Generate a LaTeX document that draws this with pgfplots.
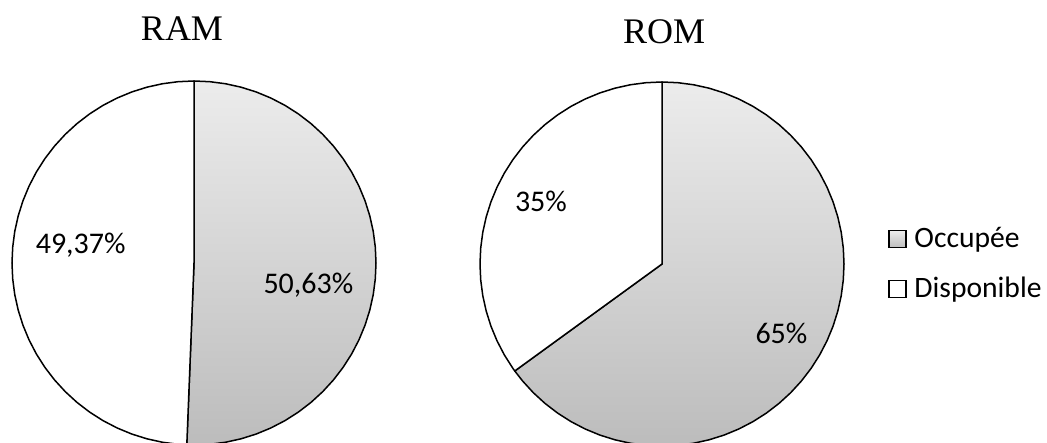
\documentclass[border=0pt]{standalone}
\usepackage{fontspec}
\setmainfont{Carlito}
\newfontfamily\titlefont{Liberation Serif}
\usepackage{pgfplots}
\pgfplotsset{compat=1.18}
\usepgfplotslibrary{polar}
\definecolor{gtop}{RGB}{236,236,236}
\definecolor{gbot}{RGB}{188,188,188}
\pgfplotsset{
  piebase/.style={
    scale only axis, width=182pt, height=182pt,
    xmin=0, xmax=360, ymin=0, ymax=1,
    hide axis, clip=false,
    xtick=\empty, ytick=\empty,
  },
  occ/.style={draw=black, line width=0.75pt, line join=round, top color=gtop, bottom color=gbot},
  dispo/.style={draw=black, line width=0.75pt, line join=round, fill=white},
}
\begin{document}
\begin{tikzpicture}[x=1pt,y=1pt]
\path[use as bounding box] (0,0) rectangle (523.5,221.5);
% RAM : Occupee 50,63 %  -> 182.27 deg ; Disponible 49,37 %
\begin{polaraxis}[piebase, at={(97pt,90pt)}, anchor=center]
\addplot[occ] coordinates {(0,0) (90,1) (85,1) (80,1) (75,1) (70,1) (65,1) (60,1) (55,1) (50,1) (45,1) (40,1) (35,1) (30,1) (25,1) (20,1) (15,1) (10,1) (5,1) (0,1) (-5,1) (-10,1) (-15,1) (-20,1) (-25,1) (-30,1) (-35,1) (-40,1) (-45,1) (-50,1) (-55,1) (-60,1) (-65,1) (-70,1) (-75,1) (-80,1) (-85,1) (-90,1) (-92.27,1)} -- cycle;
\addplot[dispo] coordinates {(0,0) (90,1) (95,1) (100,1) (105,1) (110,1) (115,1) (120,1) (125,1) (130,1) (135,1) (140,1) (145,1) (150,1) (155,1) (160,1) (165,1) (170,1) (175,1) (180,1) (185,1) (190,1) (195,1) (200,1) (205,1) (210,1) (215,1) (220,1) (225,1) (230,1) (235,1) (240,1) (245,1) (250,1) (255,1) (260,1) (265,1) (267.73,1)} -- cycle;
\node[font=\fontsize{15}{18}\selectfont] at (axis cs:171.2,0.63) {49,37\%};
\node[font=\fontsize{15}{18}\selectfont] at (axis cs:-10.9,0.64) {50,63\%};
\end{polaraxis}
% ROM : Occupee 65 % -> 234 deg ; Disponible 35 %
\begin{polaraxis}[piebase, at={(331pt,89.5pt)}, anchor=center,
  legend style={at={(1.121,0.5)}, anchor=west, draw=none, fill=none, inner sep=0pt,
    row sep=9pt, font=\fontsize{14.8}{18}\selectfont,
    legend cell align=left},
  legend image code/.code={\draw[#1, line width=0.6pt] (0pt,-4.25pt) rectangle (8.5pt,4.25pt); \path (10.5pt,0pt);},
  ]
\addplot[occ, forget plot] coordinates {(0,0) (90,1) (85,1) (80,1) (75,1) (70,1) (65,1) (60,1) (55,1) (50,1) (45,1) (40,1) (35,1) (30,1) (25,1) (20,1) (15,1) (10,1) (5,1) (0,1) (-5,1) (-10,1) (-15,1) (-20,1) (-25,1) (-30,1) (-35,1) (-40,1) (-45,1) (-50,1) (-55,1) (-60,1) (-65,1) (-70,1) (-75,1) (-80,1) (-85,1) (-90,1) (-95,1) (-100,1) (-105,1) (-110,1) (-115,1) (-120,1) (-125,1) (-130,1) (-135,1) (-140,1) (-144,1)} -- cycle;
\addplot[dispo, forget plot] coordinates {(0,0) (90,1) (95,1) (100,1) (105,1) (110,1) (115,1) (120,1) (125,1) (130,1) (135,1) (140,1) (145,1) (150,1) (155,1) (160,1) (165,1) (170,1) (175,1) (180,1) (185,1) (190,1) (195,1) (200,1) (205,1) (210,1) (215,1) (216,1)} -- cycle;
\node[font=\fontsize{15}{18}\selectfont] at (axis cs:152.5,0.75) {35\%};
\node[font=\fontsize{15}{18}\selectfont] at (axis cs:-30.3,0.76) {65\%};
\addlegendimage{draw=black, top color=gtop, bottom color=gbot}
\addlegendentry{Occupée}
\addlegendimage{draw=black, fill=white}
\addlegendentry{Disponible}
\end{polaraxis}
\node[anchor=base, font=\titlefont\fontsize{18}{22}\selectfont] at (91,201) {RAM};
\node[anchor=base, font=\titlefont\fontsize{18}{22}\selectfont] at (332,199.5) {ROM};
\end{tikzpicture}
\end{document}
